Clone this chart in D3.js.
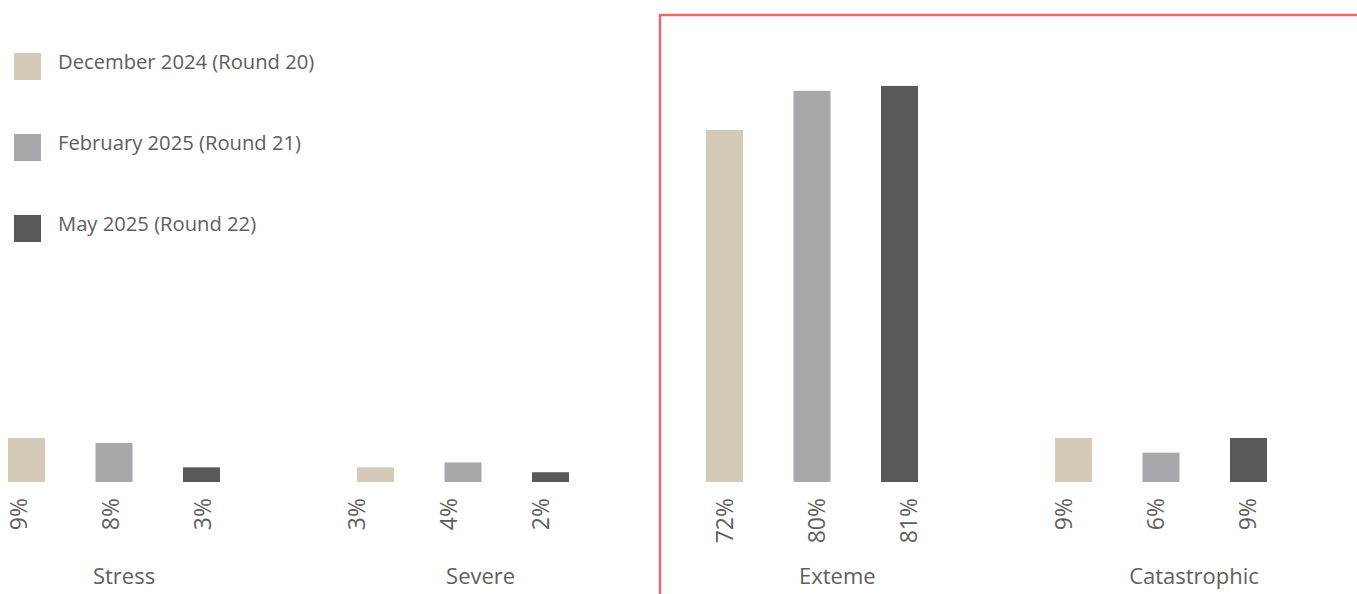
<!DOCTYPE html>
<html>
<head>
<meta charset="utf-8">
<script src="https://cdn.jsdelivr.net/npm/d3@7/dist/d3.min.js"></script>
<style>
  html, body { margin: 0; padding: 0; background: #fff; }
  svg { display: block; font-family: "Open Sans", "Noto Sans", sans-serif; }
</style>
</head>
<body>
<svg id="chart" width="1357" height="594"></svg>
<script>
const categories = ["Stress", "Severe", "Exteme", "Catastrophic"];
const seriesNames = ["December 2024 (Round 20)", "February 2025 (Round 21)", "May 2025 (Round 22)"];
const dec2024 = [9, 3, 72, 9];
const feb2025 = [8, 4, 80, 6];
const may2025 = [3, 2, 81, 9];
const seriesColors = ["#D3CBB8", "#A7A8AB", "#58595B"];

const seriesValues = [dec2024, feb2025, may2025];

const W = 1357, H = 594;
const svg = d3.select("#chart");
const textColor = "#605E5C";

const baseY = 482;
const y = d3.scaleLinear().domain([0, 100]).range([baseY, baseY - 489]);
const x0 = d3.scaleBand().domain(categories).range([8, 8 + 4 * 349]).paddingInner(0).paddingOuter(0);
const x1 = d3.scaleBand().domain(seriesNames).range([0, 212]).paddingInner(0.577).paddingOuter(0);
// data-label layout (slightly different from the bar layout in the original visual)
const labelGroup = d3.scaleOrdinal().domain(categories).range([110, 448, 816, 1155]);
const labelOffset = d3.scalePoint().domain(seriesNames).range([-92, 92]);
const xLabel = d3.scalePoint().domain(categories).range([124, 1194]);
const color = d3.scaleOrdinal().domain(seriesNames).range(seriesColors);

// highlight frame
const hx = 660;
svg.append("path")
  .attr("d", `M${hx},${H + 3} L${hx},15 L${W + 3},15`)
  .attr("fill", "none")
  .attr("stroke", "#F0646A")
  .attr("stroke-width", 2.4);

const rows = [];
categories.forEach((c, ci) => {
  seriesNames.forEach((s, si) => {
    rows.push({ cat: c, series: s, value: seriesValues[si][ci] });
  });
});

const g = svg.append("g");
g.selectAll("rect.bar").data(rows).join("rect")
  .attr("class", "bar")
  .attr("x", d => x0(d.cat) + x1(d.series))
  .attr("width", x1.bandwidth())
  .attr("y", d => y(d.value))
  .attr("height", d => y(0) - y(d.value))
  .attr("fill", d => color(d.series));

g.selectAll("text.val").data(rows).join("text")
  .attr("class", "val")
  .attr("transform", d => `translate(${labelGroup(d.cat) + labelOffset(d.series) + 8.5},${baseY + 16}) rotate(-90)`)
  .attr("text-anchor", "end")
  .attr("font-size", 23)
  .attr("fill", textColor)
  .text(d => d.value + "%");

svg.selectAll("text.cat").data(categories).join("text")
  .attr("class", "cat")
  .attr("x", d => xLabel(d))
  .attr("y", 584)
  .attr("text-anchor", "middle")
  .attr("font-size", 22)
  .attr("fill", textColor)
  .text(d => d);

// legend
const legendY = d3.scalePoint().domain(seriesNames).range([53, 215]);
const lg = svg.selectAll("g.leg").data(seriesNames).join("g")
  .attr("class", "leg")
  .attr("transform", d => `translate(14,${legendY(d)})`);
lg.append("rect").attr("width", 27).attr("height", 27).attr("fill", d => color(d));
lg.append("text")
  .attr("x", 44)
  .attr("y", 16)
  .attr("font-size", 20.2)
  .attr("fill", textColor)
  .text(d => d);
</script>
</body>
</html>
